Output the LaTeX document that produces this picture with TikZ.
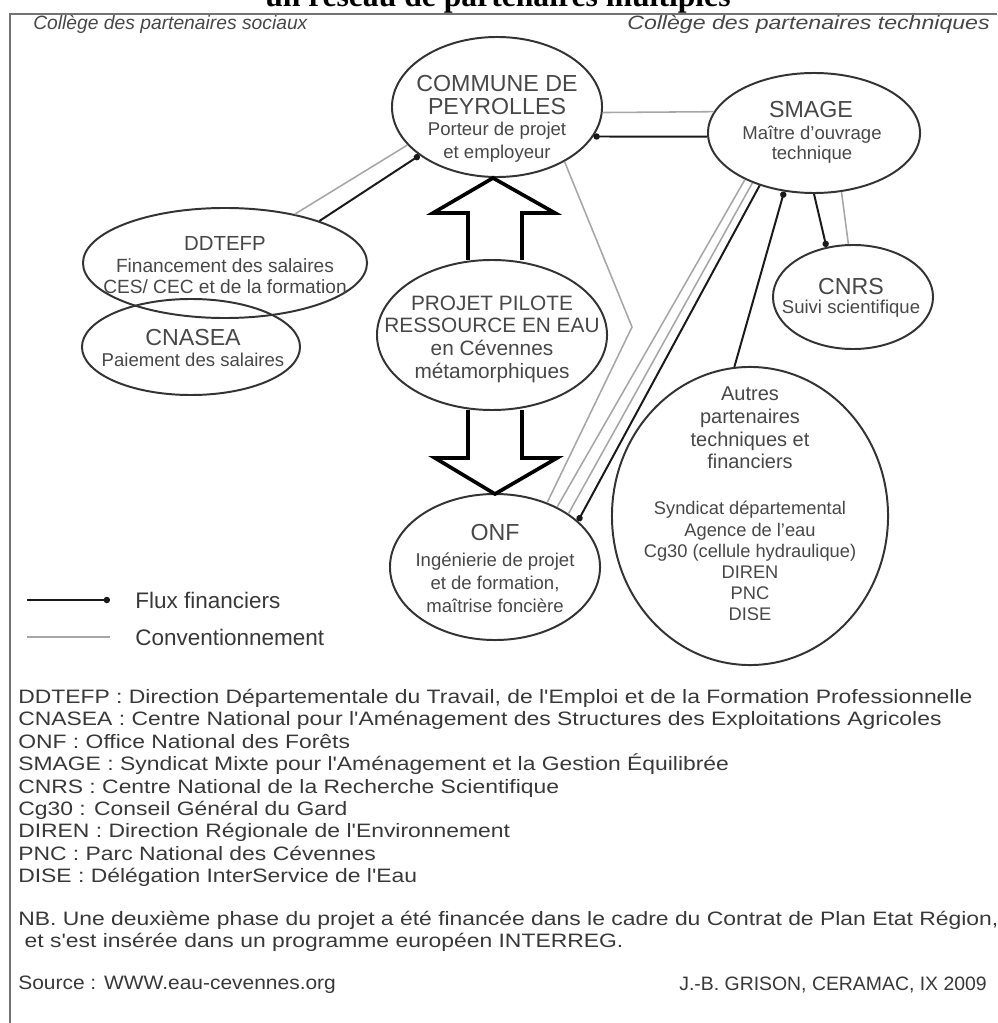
\documentclass[tikz,border=0pt]{standalone}
\usepackage{fontspec}
\setmainfont{Liberation Sans}
\newfontfamily\titlefont{Liberation Serif}
\newfontfamily\abbrfont[FakeStretch=1.18]{Liberation Sans}
\usetikzlibrary{shapes.geometric,arrows.meta}
\begin{document}
\begin{tikzpicture}[x=0.025cm,y=-0.025cm,
  box/.style={draw=black!80,line width=1.4pt,ellipse,inner sep=0pt},
  txt/.style={text=black!72,align=center,inner sep=0pt},
  big/.style={font=\fontsize{16.5}{17}\selectfont},
  mid/.style={font=\fontsize{14.5}{16.1}\selectfont},
  small/.style={font=\fontsize{13.2}{16.2}\selectfont},
  flux/.style={line width=1.4pt,black!90,-{Circle[length=4.5pt]}},
  conv/.style={line width=1.1pt,black!35},
  block/.style={line width=2.6pt,black,line join=miter},
  legtext/.style={text=black!78,anchor=west,inner sep=0pt,font=\fontsize{16}{17}\selectfont},
  abbr/.style={text=black!78,align=left,inner sep=0pt,font=\abbrfont\fontsize{13.8}{15.9}\selectfont},
  foot/.style={text=black!78,inner sep=0pt,font=\fontsize{13.8}{15.9}\selectfont},
]
\useasboundingbox (0,0) rectangle (997,1023);
% title (cropped at top)
\node[inner sep=0pt,anchor=base,font=\titlefont\bfseries\fontsize{22.5}{22.5}\selectfont] (title) at (498,7) {un réseau de partenaires multiples};
% frame
\draw[black!55,line width=1.8pt] (10,1023) -- (10,14) -- (997,14);
% college labels
\node[txt,anchor=west,font=\itshape\fontsize{13.7}{15}\selectfont] (colsoc) at (33,24) {Collège des partenaires sociaux};
\node[txt,anchor=east,font=\itshape\fontsize{13.7}{15}\selectfont] (coltech) at (990,24) {\scalebox{1.2}[1]{Collège des partenaires techniques}};

% ellipses
\node[box,minimum width=5.25cm,minimum height=3.5cm] (commune) at (497,107) {};
\node[box,minimum width=5.3cm,minimum height=3.0cm] (smage) at (814,133) {};
\node[box,minimum width=4.0cm,minimum height=2.6cm] (cnrs) at (853,297) {};
\node[box,minimum width=7.1cm,minimum height=2.75cm] (ddtefp) at (225,263) {};
\node[box,minimum width=5.45cm,minimum height=2.4cm] (cnasea) at (191,347) {};
\node[box,minimum width=5.75cm,minimum height=3.75cm] (projet) at (492,335) {};
\node[box,minimum width=5.25cm,minimum height=3.65cm] (onf) at (495,567) {};
\node[box,minimum width=6.9cm,minimum height=7.45cm] (autres) at (750,516) {};

% texts
\node[txt,big] (communeA) at (497,95) {COMMUNE DE\\PEYROLLES};
\node[txt,small] (communeB) at (497,142) {Porteur de projet\\et employeur};
\node[txt,big] (smageA) at (811,110) {SMAGE};
\node[txt,small,font=\fontsize{13.2}{14.2}\selectfont] (smageB) at (812,145) {Maître d'ouvrage\\technique};
\node[txt,big] (cnrsA) at (851,287) {CNRS};
\node[txt,small] (cnrsB) at (851,309) {Suivi scientifique};
\node[txt,mid] (ddtefpA) at (225,243) {DDTEFP};
\node[txt,small,font=\fontsize{13.6}{15.4}\selectfont] (ddtefpB) at (225,276) {Financement des salaires\\CES/ CEC et de la formation};
\node[txt,big] (cnaseaA) at (193,338) {CNASEA};
\node[txt,small] (cnaseaB) at (193,360) {Paiement des salaires};
\node[txt,mid,font=\fontsize{14.8}{16.1}\selectfont] (projetA) at (492,339) {PROJET PILOTE\\RESSOURCE EN EAU\\en Cévennes\\métamorphiques};
\node[txt,big] (onfA) at (495,533) {ONF};
\node[txt,small] (onfB) at (495,583) {Ingénierie de projet\\et de formation,\\maîtrise foncière};
\node[txt,mid,font=\fontsize{14.2}{16.1}\selectfont] (autresA) at (750,428) {Autres\\partenaires\\techniques et\\financiers};
\node[txt,small,font=\fontsize{13}{15}\selectfont] (autresB) at (750,561) {Syndicat départemental\\Agence de l'eau\\Cg30 (cellule hydraulique)\\DIREN\\PNC\\DISE};

% block arrows
\draw[block] (468,260) -- (468,213) -- (433,213) -- (493,178) -- (555,213) -- (522,213) -- (522,260);
\draw[block] (468,410) -- (468,458) -- (435,458) -- (495,494) -- (557,458) -- (522,458) -- (522,410);

% connectors
\draw[conv] (ddtefp.35) -- (commune.203);
\draw[flux] (ddtefp.24) -- (commune.212);
\draw[conv] (commune.-3) -- (smage.168);
\draw[flux] (smage.182) -- (commune.-17);
\coordinate (kink) at (632,327);
\draw[conv] (commune.-39) -- (kink) -- (onf.51);
\draw[conv] (smage.214) -- (onf.44);
\draw[conv] (smage.219) -- (onf.36);
\draw[flux] (smage.224) -- (onf.29);
\draw[flux] (autres.96) -- (smage.243);
\draw[flux] (smage.270) -- (cnrs.118);
\draw[conv] (smage.295) -- (cnrs.95);

% legend
\coordinate (l1a) at (27,600); \coordinate (l1b) at (110,600);
\coordinate (l2a) at (27,637); \coordinate (l2b) at (110,637);
\draw[flux] (l1a) -- (l1b);
\draw[conv] (l2a) -- (l2b);
\node[legtext] (leg1) at (135,600) {Flux financiers};
\node[legtext] (leg2) at (135,637) {Conventionnement};

% abbreviations
\node[abbr,anchor=north west] (abbrev) at (18,689) {DDTEFP : Direction Départementale du Travail, de l'Emploi et de la Formation Professionnelle\\
CNASEA : Centre National pour l'Aménagement des Structures des Exploitations Agricoles\\
ONF : Office National des Forêts\\
SMAGE : Syndicat Mixte pour l'Aménagement et la Gestion Équilibrée\\
CNRS : Centre National de la Recherche Scientifique\\
Cg30 : Conseil Général du Gard\\
DIREN : Direction Régionale de l'Environnement\\
PNC : Parc National des Cévennes\\
DISE : Délégation InterService de l'Eau};
\node[abbr,anchor=north west] (nb) at (18,911) {NB. Une deuxième phase du projet a été financée dans le cadre du Contrat de Plan Etat Région,\\
\ et s'est insérée dans un programme européen INTERREG.};
\node[foot,anchor=west] (source) at (18,985) {\scalebox{1.08}[1]{Source : WWW.eau-cevennes.org}};
\node[foot,anchor=east] (author) at (987,985) {J.-B. GRISON, CERAMAC, IX 2009};
\end{tikzpicture}
\end{document}
